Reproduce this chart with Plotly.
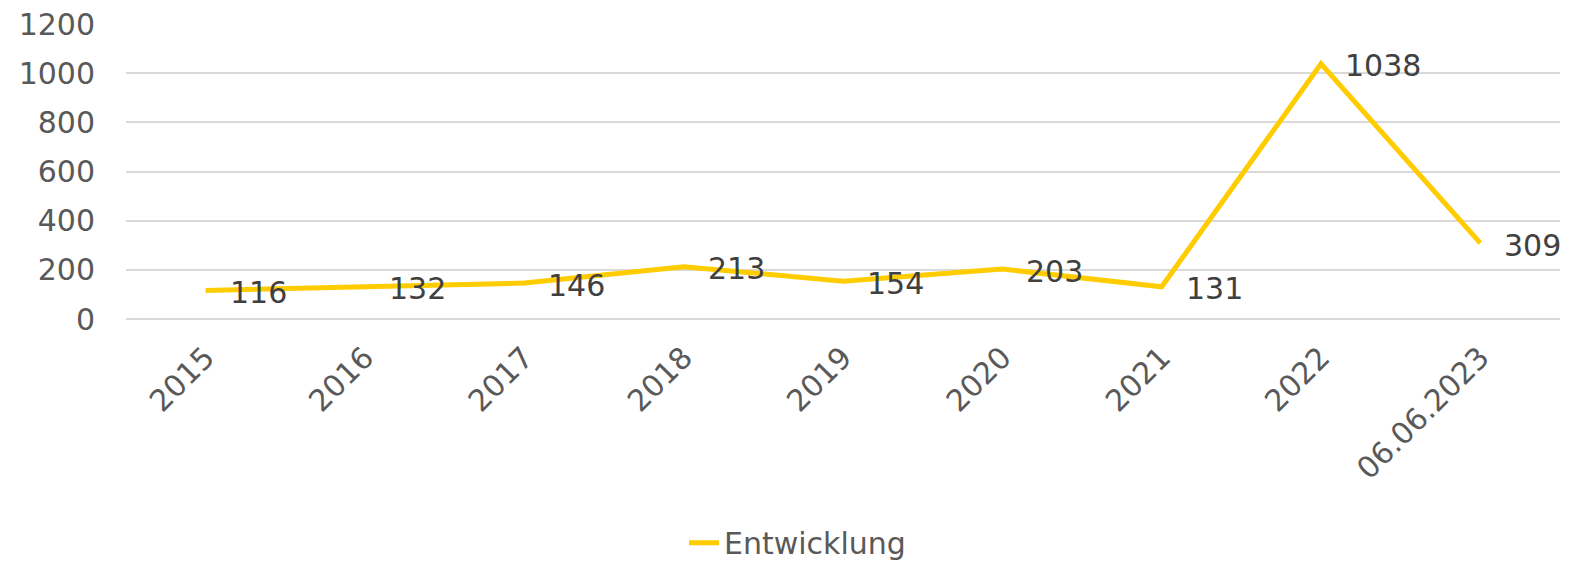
import plotly.graph_objects as go

categories = ["2015", "2016", "2017", "2018", "2019", "2020", "2021", "2022", "06.06.2023"]
values = [116, 132, 146, 213, 154, 203, 131, 1038, 309]
y_ticks = [0, 200, 400, 600, 800, 1000, 1200]

FONT = "Verdana, DejaVu Sans, sans-serif"
FS = 30

fig = go.Figure()
fig.add_trace(go.Scatter(
    x=list(range(len(categories))), y=values, mode="lines", name="Entwicklung",
    line=dict(color="#FFCC00", width=5),
))
for i, v in enumerate(values):
    fig.add_annotation(x=i, y=v, text=str(v), showarrow=False,
                       xanchor="left", yanchor="middle", xshift=22, yshift=-2,
                       font=dict(family=FONT, size=FS, color="#404040"))

fig.update_layout(
    width=1573, height=563,
    margin=dict(l=126, r=13, t=24, b=244, autoexpand=False),
    paper_bgcolor="white", plot_bgcolor="white",
    font=dict(family=FONT, size=FS, color="#595959"),
    showlegend=True,
    legend=dict(orientation="h", xref="container", yref="container",
                x=0.507, xanchor="center", y=0.036, yanchor="middle",
                font=dict(family=FONT, size=FS, color="#595959")),
    xaxis=dict(range=[-0.5, 8.5], tickmode="array",
               tickvals=list(range(len(categories))), ticktext=categories,
               tickangle=-45, showgrid=False, zeroline=False, automargin=False,
               showline=False, ticks="", ticklabelstandoff=14,
               tickfont=dict(size=FS, color="#595959")),
    yaxis=dict(range=[0, 1200], tickvals=y_ticks, showgrid=True, gridcolor="#D9D9D9",
               gridwidth=1.5, zeroline=True, zerolinecolor="#D9D9D9", zerolinewidth=1.5,
               automargin=False, ticks="", ticklabelstandoff=30,
               tickfont=dict(size=FS, color="#595959")),
)
fig.write_html("out.html", config={"displayModeBar": False},
               post_script="document.body.style.margin='0';document.body.style.overflow='hidden';")
